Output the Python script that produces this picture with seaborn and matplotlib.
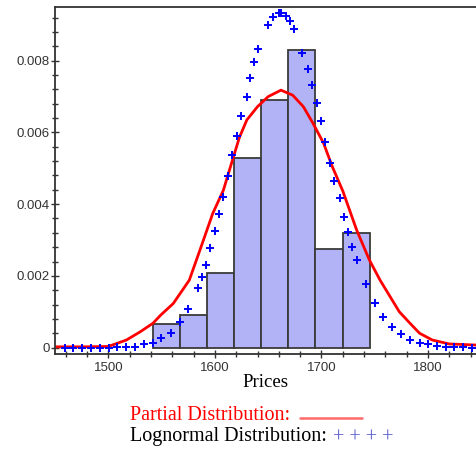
import numpy as np
import pandas as pd
import seaborn as sns
import matplotlib.pyplot as plt
from matplotlib.ticker import MultipleLocator, FuncFormatter
from matplotlib.lines import Line2D

sns.set_style("ticks")
plt.rcParams['font.family'] = ['Liberation Sans', 'DejaVu Sans']

# histogram bins (edges) and bar heights (density)
bin_edges = [1542.0, 1567.4, 1592.8, 1618.2, 1643.6, 1669.0, 1694.4, 1719.8, 1745.2]
bar_heights = [0.00066, 0.00091, 0.00207, 0.00529, 0.00691, 0.00829, 0.00276, 0.00320]

# "Partial Distribution" curve (red line)
partial_x = [1450, 1475, 1500, 1517, 1530, 1542, 1549, 1561, 1576, 1586, 1598, 1608, 1616,
             1623, 1630, 1640, 1650, 1662, 1673, 1683, 1692, 1702, 1710, 1720, 1733, 1745,
             1755, 1773, 1783, 1792, 1804, 1820, 1845]
partial_y = [0.00002, 0.00002, 0.00003, 0.00021, 0.00044, 0.00068, 0.00090, 0.00123, 0.00188,
             0.00272, 0.00374, 0.00439, 0.00518, 0.00586, 0.00635, 0.00672, 0.00700, 0.00718,
             0.00704, 0.00672, 0.00626, 0.00570, 0.00506, 0.00437, 0.00328, 0.00244, 0.00188,
             0.00100, 0.00068, 0.00040, 0.00021, 0.00010, 0.00007]

# "Lognormal Distribution" points (blue crosses)
lognorm_x = [1459.4, 1467.2, 1475.0, 1483.5, 1492.2, 1500.6, 1508.4, 1516.5, 1525.0, 1533.4,
             1541.6, 1549.6, 1558.4, 1567.2, 1574.7, 1583.7, 1587.5, 1591.5, 1595.3, 1600.2,
             1604.0, 1607.2, 1612.4, 1616.5, 1620.9, 1624.6, 1629.7, 1633.4, 1637.0, 1640.5,
             1649.6, 1654.3, 1660.2, 1662.5, 1666.8, 1670.5, 1674.0, 1682.1, 1687.4, 1691.1,
             1696.0, 1699.9, 1703.7, 1708.2, 1712.1, 1717.1, 1720.8, 1725.2, 1729.1, 1733.0,
             1741.5, 1750.6, 1757.7, 1766.1, 1774.9, 1783.4, 1792.1, 1799.9, 1808.3, 1816.4,
             1824.2, 1832.7, 1841.1]
lognorm_y = [0.0, 0.0, 0.0, 0.0, 0.0, 0.0, 0.00002, 0.00002, 0.00002, 0.00009,
             0.00012, 0.00026, 0.00041, 0.00072, 0.00107, 0.00165, 0.00198, 0.00230, 0.00277, 0.00326,
             0.00372, 0.00420, 0.00478, 0.00536, 0.00591, 0.00646, 0.00700, 0.00753, 0.00797, 0.00834,
             0.00900, 0.00922, 0.00933, 0.00934, 0.00926, 0.00910, 0.00889, 0.00821, 0.00776, 0.00732,
             0.00683, 0.00632, 0.00574, 0.00516, 0.00465, 0.00418, 0.00365, 0.00321, 0.00280, 0.00245,
             0.00177, 0.00125, 0.00085, 0.00057, 0.00037, 0.00021, 0.00012, 0.00009, 0.00005, 0.00001,
             0.00001, 0.00001, 0.0]

centers = [(a + b) / 2 for a, b in zip(bin_edges[:-1], bin_edges[1:])]
bars = pd.DataFrame({"Prices": centers, "density": bar_heights})

fig = plt.figure(figsize=(4.76, 4.5), dpi=100)
ax = fig.add_axes([55 / 476, 96 / 450, 421 / 476, 347 / 450])

sns.histplot(data=bars, x="Prices", weights="density", bins=bin_edges, ax=ax,
             color="#b1b3f6", edgecolor="#3a3a3a", linewidth=1.3, alpha=1)
sns.lineplot(x=partial_x, y=partial_y, sort=False, color="#ff0000", lw=2, ax=ax)
sns.scatterplot(x=lognorm_x, y=lognorm_y, marker="+", s=32, color="#0000ff",
                linewidth=1.4, ax=ax, zorder=5)

ax.set_xlim(1450, 1845)
ax.set_ylim(-0.00018, 0.0095)
ax.xaxis.set_major_locator(MultipleLocator(100))
ax.xaxis.set_minor_locator(MultipleLocator(20))
ax.yaxis.set_major_locator(MultipleLocator(0.002))
ax.yaxis.set_minor_locator(MultipleLocator(0.0004))
ax.yaxis.set_major_formatter(FuncFormatter(lambda v, p: "0" if abs(v) < 1e-9 else f"{v:.3f}"))
ax.tick_params(which="major", direction="inout", length=6, width=1, labelsize=9.5,
               colors="#333333", pad=1)
ax.tick_params(which="minor", direction="inout", length=4, width=1, colors="#333333")
ax.tick_params(axis="x", pad=3)

for s in ["left", "bottom", "top"]:
    ax.spines[s].set_color("#333333")
    ax.spines[s].set_linewidth(1.3)
ax.spines["right"].set_visible(False)

ax.set_ylabel("")
ax.set_xlabel("Prices", family="Liberation Serif", fontsize=13.5, color="black", labelpad=0)

# legend drawn as text below the chart
fig.text(130 / 476, 1 - 416 / 450, "Partial Distribution:", family="Liberation Serif",
         fontsize=14.5, color="#ff0000", va="center", ha="left")
fig.add_artist(Line2D([300 / 476, 362 / 476], [1 - 418 / 450, 1 - 418 / 450],
                      color="#ff6a6a", lw=1.8, transform=fig.transFigure))
fig.text(130 / 476, 1 - 437 / 450, "Lognormal Distribution:", family="Liberation Serif",
         fontsize=14.5, color="black", va="center", ha="left")
fig.text(333 / 476, 1 - 438 / 450, "+ + + +", family="Liberation Serif",
         fontsize=14.5, color="#5a5ad0", va="center", ha="left")

fig.savefig("out.png", dpi=100)
